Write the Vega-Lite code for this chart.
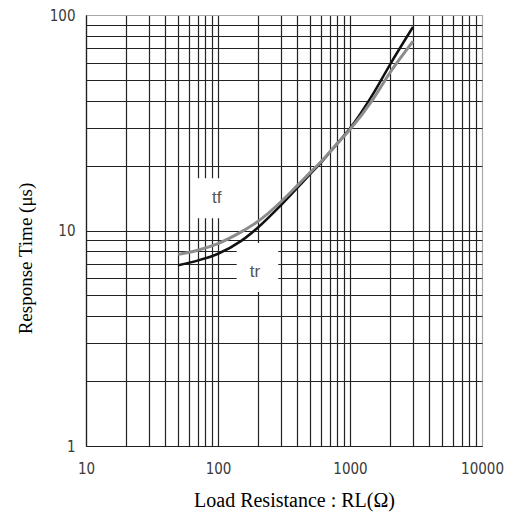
{
  "$schema": "https://vega.github.io/schema/vega-lite/v6.json",
  "width": 396,
  "height": 431,
  "autosize": {"type": "none"},
  "padding": {"left": 86, "top": 15, "right": 26, "bottom": 69},
  "background": "white",
  "config": {
    "view": {"stroke": "#a8a8a8", "strokeWidth": 1},
    "axis": {
      "ticks": false,
      "domainColor": "#222222",
      "domainWidth": 1.2,
      "gridWidth": 1.2,
      "gridOpacity": 1,
      "labelFont": "Liberation Sans Narrow, DejaVu Sans Condensed, Liberation Sans",
      "labelFontSize": 15,
      "labelColor": "#3a3a3a",
      "labelOverlap": false,
      "labelFlush": false,
      "titleFont": "Liberation Serif",
      "titleFontSize": 19,
      "titleFontWeight": "normal",
      "titleColor": "#000000"
    }
  },
  "datasets": {
    "curves": [
      {"s": "tr", "R": 50, "t": 6.9},
      {"s": "tr", "R": 70, "t": 7.25},
      {"s": "tr", "R": 100, "t": 7.8},
      {"s": "tr", "R": 150, "t": 8.95},
      {"s": "tr", "R": 200, "t": 10.3},
      {"s": "tr", "R": 300, "t": 13.1},
      {"s": "tr", "R": 400, "t": 15.8},
      {"s": "tr", "R": 500, "t": 18.3},
      {"s": "tr", "R": 600, "t": 20.6},
      {"s": "tr", "R": 700, "t": 23.0},
      {"s": "tr", "R": 800, "t": 25.3},
      {"s": "tr", "R": 1000, "t": 29.8},
      {"s": "tr", "R": 1500, "t": 43.2},
      {"s": "tr", "R": 2000, "t": 58.6},
      {"s": "tr", "R": 3000, "t": 88},
      {"s": "tf", "R": 50, "t": 7.75},
      {"s": "tf", "R": 70, "t": 8.1},
      {"s": "tf", "R": 100, "t": 8.7},
      {"s": "tf", "R": 150, "t": 9.85},
      {"s": "tf", "R": 200, "t": 11.0},
      {"s": "tf", "R": 300, "t": 13.6},
      {"s": "tf", "R": 400, "t": 16.2},
      {"s": "tf", "R": 500, "t": 18.6},
      {"s": "tf", "R": 600, "t": 20.8},
      {"s": "tf", "R": 700, "t": 23.1},
      {"s": "tf", "R": 800, "t": 25.3},
      {"s": "tf", "R": 1000, "t": 29.4},
      {"s": "tf", "R": 1500, "t": 40.8},
      {"s": "tf", "R": 2000, "t": 53.8},
      {"s": "tf", "R": 3000, "t": 75.5}
    ],
    "boxes": [
      {"R": 63.5, "R2": 152, "t": 11.4, "t2": 17.5},
      {"R": 138.6, "R2": 286, "t": 5.18, "t2": 8.75}
    ],
    "labels": [
      {"R": 97.8, "t": 14.1, "label": "tf"},
      {"R": 190.6, "t": 6.44, "label": "tr"}
    ]
  },
  "encoding": {
    "x": {
      "field": "R",
      "type": "quantitative",
      "scale": {"type": "log", "domain": [10, 10000], "nice": false},
      "axis": {
        "title": "Load Resistance : RL(Ω)",
        "titleFontSize": 20,
        "values": [10, 20, 30, 40, 50, 60, 70, 80, 90, 100, 200, 300, 400, 500, 600, 700, 800, 900, 1000, 2000, 3000, 4000, 5000, 6000, 7000, 8000, 9000, 10000],
        "format": "d",
        "labelExpr": "indexof(['10','100','1000','10000'], datum.label) >= 0 ? datum.label : ''",
        "labelPadding": 15,
        "gridColor": {"condition": {"test": "datum.value == 10000", "value": "#a8a8a8"}, "value": "#222222"},
        "titleX": 208,
        "titleY": 54,
        "titleBaseline": "middle"
      }
    },
    "y": {
      "field": "t",
      "type": "quantitative",
      "scale": {"type": "log", "domain": [1, 100], "nice": false},
      "axis": {
        "title": "Response Time (μs)",
        "values": [1, 2, 3, 4, 5, 6, 7, 8, 9, 10, 20, 30, 40, 50, 60, 70, 80, 90, 100],
        "format": "d",
        "labelExpr": "indexof(['1','10','100'], datum.label) >= 0 ? datum.label : ''",
        "labelPadding": 11,
        "gridColor": {"condition": {"test": "datum.value == 100", "value": "#a8a8a8"}, "value": "#222222"},
        "titleX": -61,
        "titleY": 243,
        "titleAngle": -90,
        "titleAlign": "center",
        "titleBaseline": "middle"
      }
    }
  },
  "layer": [
    {
      "data": {"name": "boxes"},
      "mark": {"type": "rect", "fill": "white", "stroke": null},
      "encoding": {
        "x2": {"field": "R2"},
        "y2": {"field": "t2"}
      }
    },
    {
      "data": {"name": "curves"},
      "mark": {"type": "line", "interpolate": "monotone"},
      "encoding": {
        "color": {"field": "s", "type": "nominal", "scale": {"domain": ["tf", "tr"], "range": ["#8c8c8c", "#111111"]}, "legend": null},
        "strokeWidth": {"field": "s", "type": "nominal", "scale": {"domain": ["tf", "tr"], "range": [3, 2.5]}, "legend": null},
        "order": {"field": "R", "sort": "ascending"}
      }
    },
    {
      "data": {"name": "labels"},
      "mark": {"type": "text", "font": "Liberation Sans", "fontSize": 17, "color": "#555555", "align": "center", "baseline": "middle"},
      "encoding": {
        "text": {"field": "label"}
      }
    }
  ]
}
